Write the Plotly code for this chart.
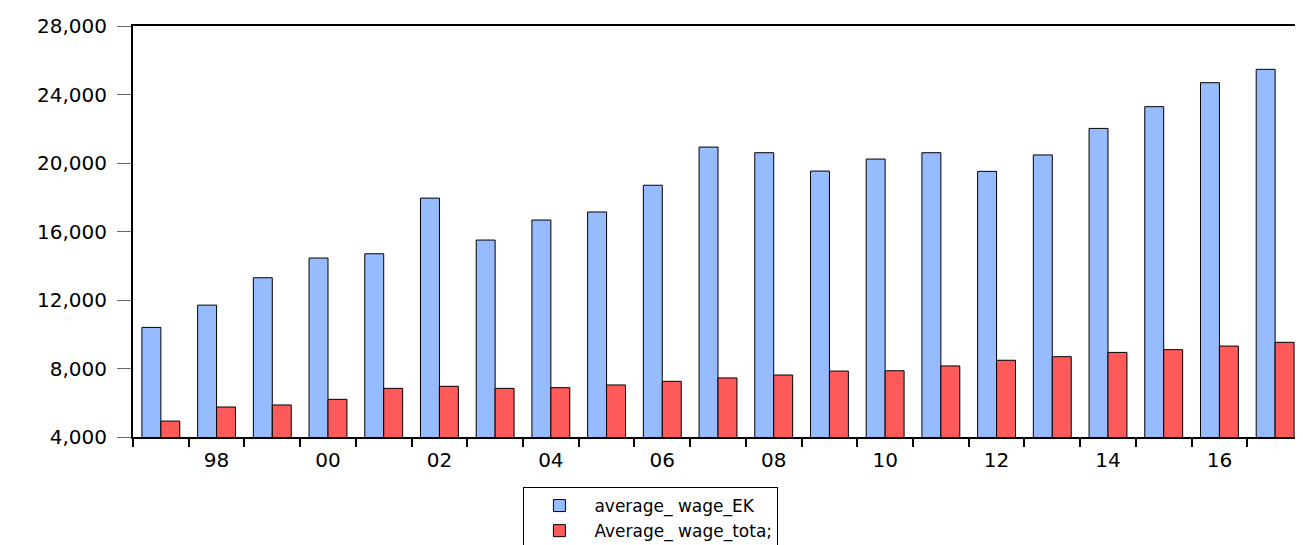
import plotly.graph_objects as go

# Average wages, EViews-style grouped bar chart

years = list(range(1997, 2018))
wage_ek = [10400, 11700, 13300, 14450, 14700, 17950, 15500, 16670, 17140, 18700,
           20930, 20600, 19530, 20230, 20600, 19510, 20470, 22020, 23290, 24690, 25470]
wage_total = [4930, 5750, 5870, 6200, 6840, 6960, 6840, 6880, 7040, 7250,
              7450, 7620, 7850, 7870, 8150, 8480, 8690, 8940, 9100, 9310, 9530]
tick_years = [1998, 2000, 2002, 2004, 2006, 2008, 2010, 2012, 2014, 2016]
tick_labels = ["98", "00", "02", "04", "06", "08", "10", "12", "14", "16"]
series_names = ["average_ wage_EK", "Average_ wage_tota;"]

FONT = "DejaVu Sans"

fig = go.Figure()
fig.add_trace(go.Bar(
    x=years, y=wage_ek, name=series_names[0],
    marker=dict(color="#96BBFF", line=dict(color="black", width=1)),
))
fig.add_trace(go.Bar(
    x=years, y=wage_total, name=series_names[1],
    marker=dict(color="#FF5A5A", line=dict(color="black", width=1)),
))

boundaries = [y - 0.5 for y in years] + [years[-1] + 0.5]

# page body has an 8px margin, so the figure is shrunk by that much
fig.update_layout(
    width=1295, height=537,
    barmode="group", bargap=0.32, bargroupgap=0,
    plot_bgcolor="white", paper_bgcolor="white",
    font=dict(family=FONT, size=20, color="black"),
    margin=dict(l=125, r=0, t=18, b=108, autoexpand=False),
    showlegend=True,
    legend=dict(
        xref="container", yref="container",
        x=0.398, y=0.108, xanchor="left", yanchor="top",
        bordercolor="black", borderwidth=1,
        font=dict(family=FONT, size=17, color="black"),
        tracegroupgap=0, itemwidth=60,
    ),
    xaxis=dict(
        range=[years[0] - 0.5, years[-1] + 0.5],
        tickvals=tick_years, ticktext=tick_labels,
        ticks="outside", ticklen=4, tickcolor="rgba(0,0,0,0)",
        showline=True, linecolor="black", linewidth=2, mirror=True,
        showgrid=False, zeroline=False,
        minor=dict(tickvals=boundaries, ticks="outside", ticklen=8,
                   tickcolor="black", tickwidth=1.5, showgrid=False),
    ),
    yaxis=dict(
        range=[4000, 28000], dtick=4000, tick0=4000, tickformat=",",
        ticks="outside", ticklen=14, tickcolor="#666666",
        ticklabelstandoff=6,
        showline=True, linecolor="black", linewidth=2,
        showgrid=False, zeroline=False,
    ),
)

fig.write_html("out.html")
